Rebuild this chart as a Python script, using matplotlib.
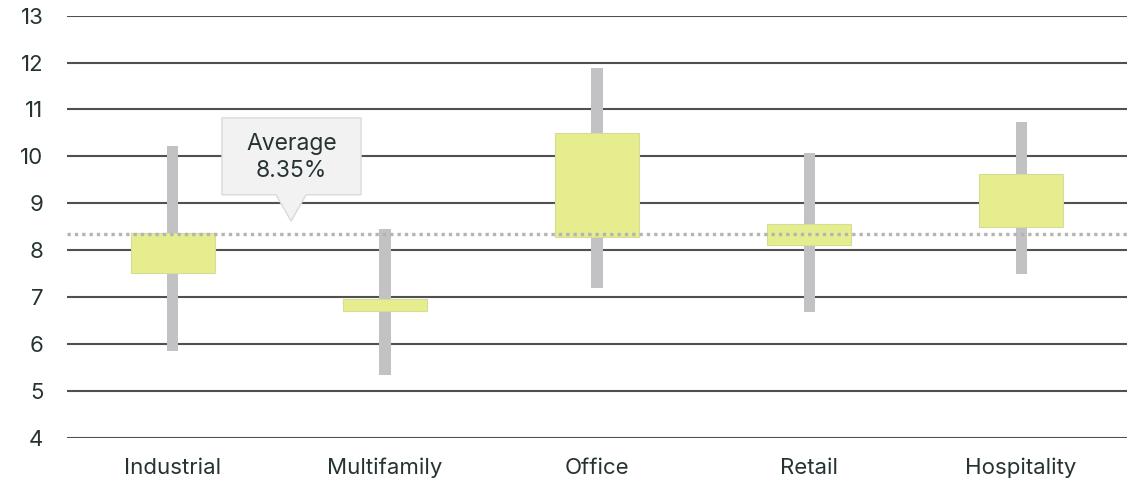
import matplotlib
matplotlib.use("Agg")
import matplotlib.pyplot as plt
from matplotlib.patches import Polygon, Rectangle

# Cap rate ranges by property sector (%)
categories = ["Industrial", "Multifamily", "Office", "Retail", "Hospitality"]
range_low = [5.85, 5.34, 7.20, 6.69, 7.49]
range_high = [10.21, 8.45, 11.89, 10.07, 10.73]
box_low = [7.52, 6.71, 8.29, 8.10, 8.49]
box_high = [8.36, 6.95, 10.49, 8.55, 9.62]
average = 8.35
y_ticks = [4, 5, 6, 7, 8, 9, 10, 11, 12, 13]

plt.rcParams["font.family"] = ["Inter", "DejaVu Sans"]

text_color = "#263333"
grid_color = "#505050"
whisker_color = "#c2c2c4"
box_color = "#e6ed8e"
box_edge = "#d6dc96"

fig = plt.figure(figsize=(11.35, 4.82), dpi=100)
ax = fig.add_axes([0.059, 0.092, 0.934, 0.8755])

ax.set_xlim(-0.5, len(categories) - 0.5)
ax.set_ylim(min(y_ticks), max(y_ticks))

for t in y_ticks:
    ax.axhline(t, color=grid_color, linewidth=1.5, zorder=1)

x = list(range(len(categories)))
whisker_w = 0.052
box_w = 0.40
for i in x:
    ax.add_patch(Rectangle((i - whisker_w / 2, range_low[i]), whisker_w,
                           range_high[i] - range_low[i],
                           facecolor=whisker_color, edgecolor="none", zorder=2))
    ax.add_patch(Rectangle((i - box_w / 2, box_low[i]), box_w,
                           box_high[i] - box_low[i],
                           facecolor=box_color, edgecolor=box_edge,
                           linewidth=0.8, zorder=3))

ax.axhline(average, color="#b4b4b4", linewidth=2.4, linestyle=(0, (1.0, 1.2)),
           dash_capstyle="butt", zorder=4)

# Callout box with pointer
bx0, bx1 = 0.231, 0.887
by0, by1 = 9.18, 10.82
tip_x, tip_y = 0.557, 8.62
half_base = 0.071
callout = Polygon([(bx0, by0), (tip_x - half_base, by0), (tip_x, tip_y),
                   (tip_x + half_base, by0), (bx1, by0), (bx1, by1), (bx0, by1)],
                  closed=True, facecolor="#f2f2f2", edgecolor="#dadada",
                  linewidth=1.0, zorder=5)
ax.add_patch(callout)
ax.text((bx0 + bx1) / 2, (by0 + by1) / 2 - 0.02, f"Average\n{average:.2f}%",
        ha="center", va="center", fontsize=16.5, color=text_color,
        linespacing=1.3, zorder=6)

ax.set_xticks(x)
ax.set_xticklabels(categories)
ax.set_yticks(y_ticks)
ax.set_yticklabels([str(t) for t in y_ticks])
ax.tick_params(axis="both", length=0, labelsize=16, labelcolor=text_color)
ax.tick_params(axis="y", pad=17)
ax.tick_params(axis="x", pad=14.5)

for s in ax.spines.values():
    s.set_visible(False)

fig.savefig("out.png", dpi=100, facecolor="white")
